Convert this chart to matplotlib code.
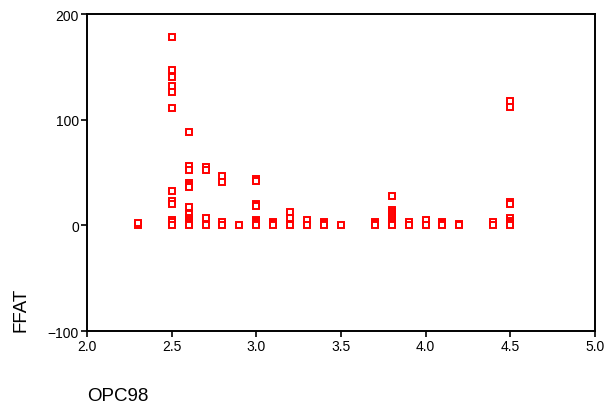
import numpy as np
import matplotlib
matplotlib.use("Agg")
from matplotlib import pyplot as plt

plt.rcParams['font.family'] = ['Liberation Sans', 'DejaVu Sans']

# OPC98 value -> FFAT values
opc = [2.3, 2.5, 2.6, 2.7, 2.8, 2.9, 3.0, 3.1, 3.2, 3.3, 3.4, 3.5,
       3.7, 3.8, 3.9, 4.0, 4.1, 4.2, 4.4, 4.5]
ffat = [
    [0, 2],
    [178, 147, 140, 132, 126, 111, 33, 23, 20, 5, 3, 0],
    [88, 56, 52, 40, 38, 36, 17, 11, 7, 5, 3, 1, 0],
    [55, 52, 7, 0],
    [47, 41, 3, 0],
    [0],
    [44, 42, 20, 19, 18, 5, 4, 3, 2, 1, 0],
    [3, 2, 1, 0],
    [13, 7, 0],
    [5, 0],
    [3, 2, 1, 0],
    [0],
    [3, 2, 1, 0],
    [28, 15, 13, 11, 9, 7, 5, 3, 1, 0],
    [3, 0],
    [5, 0],
    [3, 2, 1, 0],
    [1, 0],
    [3, 0],
    [118, 112, 22, 20, 7, 4, 2, 0],
]

xticks = [2.0, 2.5, 3.0, 3.5, 4.0, 4.5, 5.0]
yticks = [-100, 0, 100, 200]

x = np.concatenate([[o] * len(v) for o, v in zip(opc, ffat)])
y = np.concatenate(ffat)

fig = plt.figure(figsize=(6.05, 4.06), dpi=100)
ax = fig.add_axes([0.144, 0.182, 0.839, 0.781])

ax.plot(x, y, linestyle='none', marker='s', markersize=4.2,
        markerfacecolor='white', markeredgecolor='red', markeredgewidth=1.4)

ax.set_xlim(2.0, 5.0)
ax.set_ylim(-100, 200)
ax.set_xticks(xticks)
ax.set_xticklabels(['%.1f' % t for t in xticks])
ax.set_yticks(yticks)
ax.tick_params(direction='out', length=4, width=1.2, labelsize=10, colors='black', pad=2)
for s in ax.spines.values():
    s.set_linewidth(1.4)

fig.text(0.035, 0.182, 'FFAT', rotation=90, ha='center', va='bottom', fontsize=13.5)
fig.text(0.144, 0.0123, 'OPC98', ha='left', va='baseline', fontsize=13.5)

fig.savefig('out.png', dpi=100)
